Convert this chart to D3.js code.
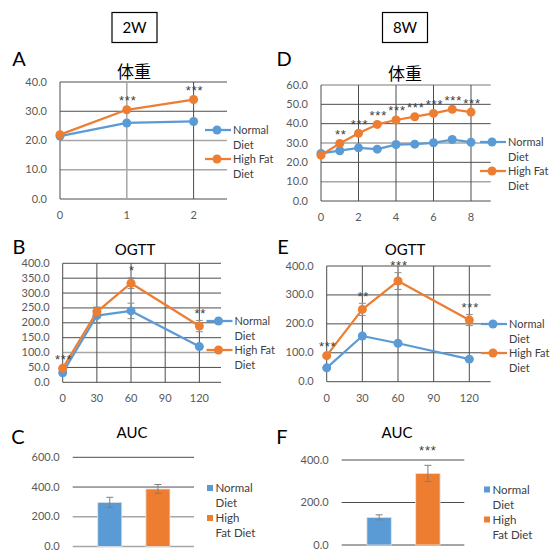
<!DOCTYPE html>
<html>
<head>
<meta charset="utf-8">
<script src="https://cdn.jsdelivr.net/npm/d3@7"></script>
<style>
  html, body { margin: 0; padding: 0; background: #fff; }
  svg { display: block; }
</style>
</head>
<body>
<svg id="chart" width="550" height="551"></svg>
<script>
// --- data ---
const weeks2W = [0, 1, 2];
const weight2WNormal = [21.5, 26, 26.5];
const weight2WHFD = [22, 30.5, 34];
const weight2WStars = ["", "***", "***"];

const weeks8W = [0, 1, 2, 3, 4, 5, 6, 7, 8];
const weight8WNormal = [24.6, 26, 27.5, 26.8, 29.2, 29.4, 30.1, 31.8, 30.4];
const weight8WHFD = [23.7, 29.8, 35, 39.6, 41.9, 43.6, 45.3, 47.4, 46];
const weight8WStars = ["", "**", "***", "***", "***", "***", "***", "***", "***"];

const ogttTimes = [0, 30, 60, 120];
const ogtt2WNormal = [32, 224, 240, 120];
const ogtt2WNormalErr = [4, 26, 26, 8];
const ogtt2WHFD = [47, 237, 333, 189];
const ogtt2WHFDErr = [5, 16, 18, 19];
const ogtt2WStars = ["***", "", "*", "**"];

const ogtt8WNormal = [48, 158, 133, 78];
const ogtt8WNormalErr = [4, 8, 6, 5];
const ogtt8WHFD = [90, 250, 348, 213];
const ogtt8WHFDErr = [6, 21, 29, 19];
const ogtt8WStars = ["***", "**", "***", "***"];

const aucGroups = ["Normal Diet", "High Fat Diet"];
const auc2W = [297, 387];
const auc2WErr = [34, 30];
const auc2WStars = ["", ""];
const auc8W = [130, 337];
const auc8WErr = [12, 38];
const auc8WStars = ["", "***"];

const legendLine = [["Normal", "Diet"], ["High Fat", "Diet"]];
const legendBar = [["Normal", "Diet"], ["High", "Fat Diet"]];

const BLUE = "#5b9bd5";
const ORANGE = "#ed7d31";
const DARK = "#4d4d4d";
const GRAY = "#a6a6a6";
const FONT = "Lato, 'Open Sans', sans-serif";
const STAR_FONT = "'Liberation Sans', Arial, sans-serif";
const TEXT = "#595959";

const svg = d3.select("#chart");

function header(cx, label) {
  svg.append("rect")
    .attr("x", cx - 22.5).attr("y", 12.5).attr("width", 45).attr("height", 30)
    .attr("fill", "none").attr("stroke", "#000").attr("stroke-width", 1.2);
  svg.append("text")
    .attr("x", cx).attr("y", 33).attr("text-anchor", "middle")
    .attr("font-family", FONT).attr("font-size", 15).attr("fill", "#000")
    .text(label);
}

function panelText(x, y, label, size, family) {
  svg.append("text")
    .attr("x", x).attr("y", y)
    .attr("text-anchor", "middle")
    .attr("font-family", family || FONT).attr("font-size", size).attr("fill", "#000")
    .text(label);
}

function starText(g, x, y, label) {
  g.append("text")
    .attr("x", x).attr("y", y)
    .attr("text-anchor", "middle")
    .attr("font-family", STAR_FONT).attr("font-size", 13).attr("fill", "#404040")
    .attr("letter-spacing", 0.8)
    .text(label);
}

function yAxis(g, y, box, ticks, grayTicks) {
  ticks.forEach((t) => {
    g.append("line")
      .attr("x1", box.left).attr("x2", box.right)
      .attr("y1", y(t)).attr("y2", y(t))
      .attr("stroke", grayTicks.includes(t) ? GRAY : DARK)
      .attr("stroke-width", grayTicks.includes(t) ? 1.5 : 1);
    g.append("text")
      .attr("x", box.left - 13).attr("y", y(t) + 3.5)
      .attr("text-anchor", "end")
      .attr("font-family", FONT).attr("font-size", 11).attr("fill", TEXT)
      .text(d3.format(".1f")(t));
  });
}

function linePanel(cfg) {
  const { box } = cfg;
  const g = svg.append("g");
  const x = d3.scaleLinear().domain(cfg.xDomain).range([box.left, box.right]);
  const y = d3.scaleLinear().domain([0, cfg.yMax]).range([box.bottom, box.top]);

  yAxis(g, y, box, d3.range(0, cfg.yMax + 1e-9, cfg.yStep), cfg.grayY);

  // vertical grid + left axis
  g.append("line")
    .attr("x1", box.left).attr("x2", box.left)
    .attr("y1", box.top).attr("y2", box.bottom)
    .attr("stroke", DARK);
  cfg.xTicks.forEach((t) => {
    if (t > 0) {
      g.append("line")
        .attr("x1", x(t)).attr("x2", x(t))
        .attr("y1", box.top).attr("y2", box.bottom)
        .attr("stroke", cfg.grayX.includes(t) ? GRAY : DARK)
        .attr("stroke-width", cfg.grayX.includes(t) ? 1.5 : 1);
    }
    g.append("text")
      .attr("x", x(t)).attr("y", box.bottom + 20)
      .attr("text-anchor", "middle")
      .attr("font-family", FONT).attr("font-size", 11).attr("fill", TEXT)
      .text(t);
  });

  const line = d3.line().x((d) => x(d[0])).y((d) => y(d[1]));

  cfg.series.forEach((s) => {
    const pts = cfg.xs.map((v, i) => [v, s.values[i], s.err ? s.err[i] : 0]);
    if (s.err) {
      pts.forEach(([xv, yv, e]) => {
        if (!e) return;
        const eg = g.append("g").attr("stroke", "#8c8c8c").attr("stroke-width", 1);
        eg.append("line").attr("x1", x(xv)).attr("x2", x(xv)).attr("y1", y(yv + e)).attr("y2", y(yv - e));
        eg.append("line").attr("x1", x(xv) - 3.5).attr("x2", x(xv) + 3.5).attr("y1", y(yv + e)).attr("y2", y(yv + e));
        eg.append("line").attr("x1", x(xv) - 3.5).attr("x2", x(xv) + 3.5).attr("y1", y(yv - e)).attr("y2", y(yv - e));
      });
    }
    g.append("path")
      .attr("d", line(pts))
      .attr("fill", "none").attr("stroke", s.color).attr("stroke-width", 2.25)
      .attr("stroke-linejoin", "round");
    g.selectAll(null).data(pts).join("circle")
      .attr("cx", (d) => x(d[0])).attr("cy", (d) => y(d[1]))
      .attr("r", 4.5).attr("fill", s.color);
  });

  // significance stars above the high fat series
  const hfd = cfg.series[1];
  cfg.xs.forEach((xv, i) => {
    if (!cfg.stars[i]) return;
    const e = hfd.err ? hfd.err[i] : 0;
    const top = Math.min(y(hfd.values[i]) - 12, y(hfd.values[i] + e) - 10);
    starText(g, x(xv) + 1, top + 7.5, cfg.stars[i]);
  });

  // legend
  legendLine.forEach((lines, i) => {
    const ly = cfg.legend.y + i * 29;
    const color = cfg.series[i].color;
    g.append("line")
      .attr("x1", cfg.legend.x - 12).attr("x2", cfg.legend.x + 14)
      .attr("y1", ly).attr("y2", ly)
      .attr("stroke", color).attr("stroke-width", 2.25);
    g.append("circle").attr("cx", cfg.legend.x).attr("cy", ly).attr("r", 4.5).attr("fill", color);
    lines.forEach((t, j) => {
      g.append("text")
        .attr("x", cfg.legend.x + 16).attr("y", ly + 4 + j * 15)
        .attr("font-family", FONT).attr("font-size", 11).attr("fill", "#404040")
        .text(t);
    });
  });
}

function barPanel(cfg) {
  const { box } = cfg;
  const g = svg.append("g");
  const x = d3.scaleBand().domain(aucGroups)
    .range([box.left + 13, box.right - 12])
    .paddingInner(0.5).paddingOuter(0.25);
  const y = d3.scaleLinear().domain([0, cfg.yMax]).range([box.bottom, box.top]);

  yAxis(g, y, box, d3.range(0, cfg.yMax + 1e-9, cfg.yStep), cfg.grayY);

  const colors = [BLUE, ORANGE];
  g.selectAll(null).data(aucGroups).join("rect")
    .attr("x", (d) => x(d))
    .attr("y", (d, i) => y(cfg.values[i]))
    .attr("width", x.bandwidth())
    .attr("height", (d, i) => y(0) - y(cfg.values[i]))
    .attr("fill", (d, i) => colors[i])
    .attr("stroke", "#e6e6e6").attr("stroke-width", 0.8);

  aucGroups.forEach((d, i) => {
    const cx = x(d) + x.bandwidth() / 2;
    const v = cfg.values[i], e = cfg.err[i];
    const eg = g.append("g").attr("stroke", "#7f7f7f").attr("stroke-width", 1);
    eg.append("line").attr("x1", cx).attr("x2", cx).attr("y1", y(v + e)).attr("y2", y(v - e));
    eg.append("line").attr("x1", cx - 3.5).attr("x2", cx + 3.5).attr("y1", y(v + e)).attr("y2", y(v + e));
    eg.append("line").attr("x1", cx - 3.5).attr("x2", cx + 3.5).attr("y1", y(v - e)).attr("y2", y(v - e));
    if (cfg.stars[i]) starText(g, cx, y(v + e) - 10, cfg.stars[i]);
  });

  legendBar.forEach((lines, i) => {
    const ly = cfg.legend.y + i * 30;
    g.append("rect")
      .attr("x", cfg.legend.x).attr("y", ly - 3)
      .attr("width", 6).attr("height", 6).attr("fill", colors[i]);
    lines.forEach((t, j) => {
      g.append("text")
        .attr("x", cfg.legend.x + 8.5).attr("y", ly + 4 + j * 15)
        .attr("font-family", FONT).attr("font-size", 11.5).attr("fill", "#404040")
        .text(t);
    });
  });
}

// --- headers and panel labels ---
header(134.5, "2W");
header(405, "8W");

panelText(19, 66, "A", 20);
panelText(19, 254, "B", 20);
panelText(18, 444, "C", 20);
panelText(284, 66, "D", 20);
panelText(283, 254, "E", 20);
panelText(282, 444, "F", 20);

panelText(134, 78, "体重", 17, "'Noto Sans CJK JP', sans-serif");
panelText(405, 80, "体重", 17, "'Noto Sans CJK JP', sans-serif");
panelText(135, 255, "OGTT", 15);
panelText(405, 255, "OGTT", 15);
panelText(132, 438, "AUC", 15);
panelText(397, 438, "AUC", 15);

// --- A: weight 2W ---
linePanel({
  box: { left: 60, right: 227, top: 82, bottom: 199 },
  xs: weeks2W, xDomain: [0, 2.5], xTicks: [0, 1, 2],
  yMax: 40, yStep: 10, grayY: [10, 20], grayX: [1],
  series: [{ values: weight2WNormal, color: BLUE }, { values: weight2WHFD, color: ORANGE }],
  stars: weight2WStars,
  legend: { x: 217, y: 130 },
});

// --- D: weight 8W ---
linePanel({
  box: { left: 321, right: 490.7, top: 85, bottom: 201 },
  xs: weeks8W, xDomain: [0, 9.05], xTicks: [0, 2, 4, 6, 8],
  yMax: 60, yStep: 10, grayY: [10, 30, 60], grayX: [],
  series: [{ values: weight8WNormal, color: BLUE }, { values: weight8WHFD, color: ORANGE }],
  stars: weight8WStars,
  legend: { x: 492, y: 142 },
});

// --- B: OGTT 2W ---
linePanel({
  box: { left: 62.7, right: 221, top: 263.3, bottom: 382.3 },
  xs: ogttTimes, xDomain: [0, 139], xTicks: [0, 30, 60, 90, 120],
  yMax: 400, yStep: 50, grayY: [100], grayX: [],
  series: [
    { values: ogtt2WNormal, err: ogtt2WNormalErr, color: BLUE },
    { values: ogtt2WHFD, err: ogtt2WHFDErr, color: ORANGE },
  ],
  stars: ogtt2WStars,
  legend: { x: 218.5, y: 321 },
});

// --- E: OGTT 8W ---
linePanel({
  box: { left: 326.7, right: 490.7, top: 266, bottom: 381.7 },
  xs: ogttTimes, xDomain: [0, 138], xTicks: [0, 30, 60, 90, 120],
  yMax: 400, yStep: 100, grayY: [], grayX: [],
  series: [
    { values: ogtt8WNormal, err: ogtt8WNormalErr, color: BLUE },
    { values: ogtt8WHFD, err: ogtt8WHFDErr, color: ORANGE },
  ],
  stars: ogtt8WStars,
  legend: { x: 493, y: 324 },
});

// --- C: AUC 2W ---
barPanel({
  box: { left: 72.7, right: 194, top: 457.3, bottom: 546.5 },
  yMax: 600, yStep: 200, grayY: [200, 0],
  values: auc2W, err: auc2WErr, stars: auc2WStars,
  legend: { x: 207, y: 488 },
});

// --- F: AUC 8W ---
barPanel({
  box: { left: 341.7, right: 464.3, top: 460, bottom: 545 },
  yMax: 400, yStep: 200, grayY: [],
  values: auc8W, err: auc8WErr, stars: auc8WStars,
  legend: { x: 484, y: 489.5 },
});
</script>
</body>
</html>
